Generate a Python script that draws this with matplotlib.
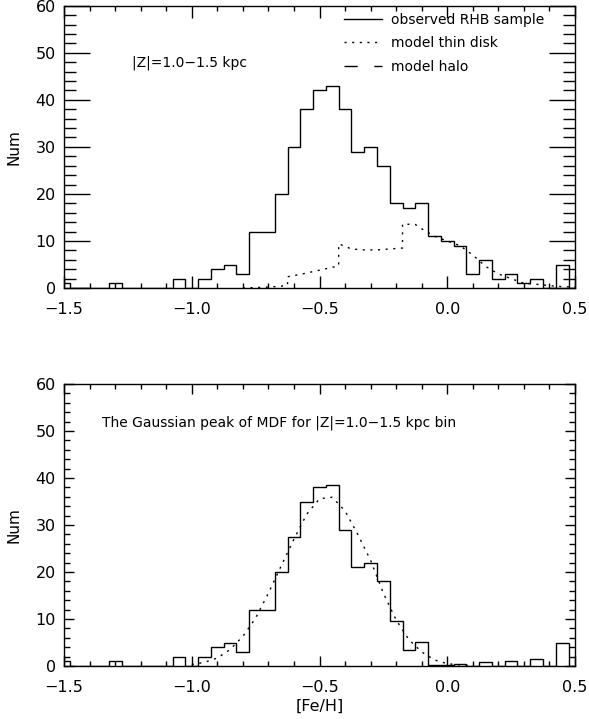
"""Metallicity distribution of RHB stars at |Z| = 1.0-1.5 kpc.

Top: observed [Fe/H] histogram with the model thin-disk curve.
Bottom: the Gaussian peak left after removing the thin disk, with its fit.
"""

import matplotlib

matplotlib.use('Agg')
import matplotlib.pyplot as plt
import numpy as np
from matplotlib.lines import Line2D
from matplotlib.ticker import FuncFormatter, MultipleLocator

# bins of 0.05 dex centred on -1.50 ... 0.50
bin_width = 0.05
bin_centers = np.round(np.arange(-1.50, 0.5001, bin_width), 2)

observed_counts = [1, 0, 0, 0, 1, 0, 0, 0, 0, 2,
                   0, 2, 4, 5, 3, 12, 12, 20, 30, 38,
                   42, 43, 38, 29, 30, 26, 18, 17, 18, 11,
                   10, 9, 3, 6, 2, 3, 1, 2, 0, 5,
                   0]

# model thin disk (dotted curve, top panel)
disk_feh = [-0.80, -0.75, -0.70, -0.65, -0.625, -0.625, -0.575, -0.525, -0.475,
            -0.425, -0.425, -0.375, -0.325, -0.275, -0.225, -0.175, -0.175,
            -0.125, -0.10, -0.05, 0.00, 0.05, 0.10, 0.15, 0.20, 0.25, 0.30,
            0.35, 0.40, 0.45, 0.50]
disk_num = [0.0, 0.1, 0.2, 0.4, 0.6, 2.4, 2.9, 3.5, 4.1,
            4.7, 9.4, 8.3, 8.1, 8.1, 8.3, 8.5, 13.6,
            13.5, 12.6, 11.0, 10.0, 9.0, 7.0, 4.6, 3.0, 2.0, 1.0,
            0.8, 0.5, 0.3, 0.2]

# observed minus thin disk (bottom panel histogram)
peak_counts = [1, 0, 0, 0, 1, 0, 0, 0, 0, 2,
               0, 2, 4, 5, 3, 12, 12, 20, 27.5, 35,
               38, 38.5, 29, 21, 22, 18, 9.5, 3.5, 5.2, 0.2,
               0.3, 0.5, 0, 0.9, 0, 1.1, 0, 1.4, 0, 4.9,
               0]

# Gaussian fit to the peak (dotted curve, bottom panel)
gauss_feh = [-1.00, -0.95, -0.90, -0.85, -0.80, -0.75, -0.70, -0.65, -0.60,
             -0.55, -0.50, -0.45, -0.40, -0.35, -0.30, -0.25, -0.20, -0.15,
             -0.10, -0.05, 0.00, 0.05, 0.10]
gauss_num = [0.3, 0.8, 1.7, 3.5, 6.3, 10.2, 15.5, 21.3, 27.0,
             32.3, 35.6, 35.9, 33.0, 28.0, 22.5, 15.5, 9.8, 5.6,
             3.0, 1.3, 0.5, 0.2, 0.1]

zone_label = '|Z|=1.0\u22121.5 kpc'
peak_label = 'The Gaussian peak of MDF for |Z|=1.0\u22121.5 kpc bin'
legend_labels = ['observed RHB sample', 'model thin disk', 'model halo']

DOTTED = (0, (1.5, 4.0))
HALO = (0, (9.5, 12.0, 6.0, 12.0))

plt.rcParams['font.family'] = ['DejaVu Sans']

edges = np.append(bin_centers - bin_width / 2, bin_centers[-1] + bin_width / 2)


def style_axes(ax, ymajor_len, yminor_len, xmajor_len, xminor_len):
    ax.set_xlim(-1.5, 0.5)
    ax.set_ylim(0, 60)
    ax.xaxis.set_major_locator(MultipleLocator(0.5))
    ax.xaxis.set_minor_locator(MultipleLocator(0.1))
    ax.yaxis.set_major_locator(MultipleLocator(10))
    ax.yaxis.set_minor_locator(MultipleLocator(2))
    ax.xaxis.set_major_formatter(
        FuncFormatter(lambda v, p: f'{v:.1f}'.replace('-', '\u2212')))
    ax.tick_params(which='both', direction='in', top=True, right=True,
                   width=1.0, color='black', labelsize=11.5)
    ax.tick_params(axis='x', which='major', length=xmajor_len, pad=10)
    ax.tick_params(axis='x', which='minor', length=xminor_len)
    ax.tick_params(axis='y', which='major', length=ymajor_len, pad=6)
    ax.tick_params(axis='y', which='minor', length=yminor_len)
    for s in ax.spines.values():
        s.set_linewidth(1.0)
    ax.set_ylabel('Num', fontsize=11)
    ax.yaxis.set_label_coords(-0.084, 0.5)


fig = plt.figure(figsize=(5.89, 7.19), dpi=100)
ax1 = fig.add_axes([0.1087, 0.5994, 0.8675, 0.3927])
ax2 = fig.add_axes([0.1087, 0.0737, 0.8675, 0.3922])

# top panel
ax1.stairs(observed_counts, edges, baseline=0, color='black', lw=1.0)
ax1.plot(disk_feh, disk_num, color='black', lw=1.0, linestyle=DOTTED)
style_axes(ax1, 18.5, 8.5, 8.5, 3.6)
ax1.text(-1.235, 47.8, zone_label, fontsize=10, va='center', ha='left')
handles = [Line2D([], [], color='black', lw=1.0),
           Line2D([], [], color='black', lw=1.0, linestyle=DOTTED),
           Line2D([], [], color='black', lw=1.0, linestyle=HALO)]
ax1.legend(handles, legend_labels, loc='upper left', bbox_to_anchor=(0.548, 0.975),
           frameon=False, fontsize=10, handlelength=2.7, handletextpad=0.7,
           labelspacing=0.68, borderpad=0, borderaxespad=0)

# bottom panel
ax2.stairs(peak_counts, edges, baseline=0, color='black', lw=1.0)
ax2.plot(gauss_feh, gauss_num, color='black', lw=1.0, linestyle=DOTTED)
style_axes(ax2, 7.0, 4.3, 7.0, 3.6)
ax2.text(-1.352, 51.8, peak_label, fontsize=10, va='center', ha='left')
ax2.set_xlabel('[Fe/H]', fontsize=11.5)
ax2.xaxis.set_label_coords(0.5, -0.118)

fig.savefig('out.png', dpi=100)
plt.close(fig)
